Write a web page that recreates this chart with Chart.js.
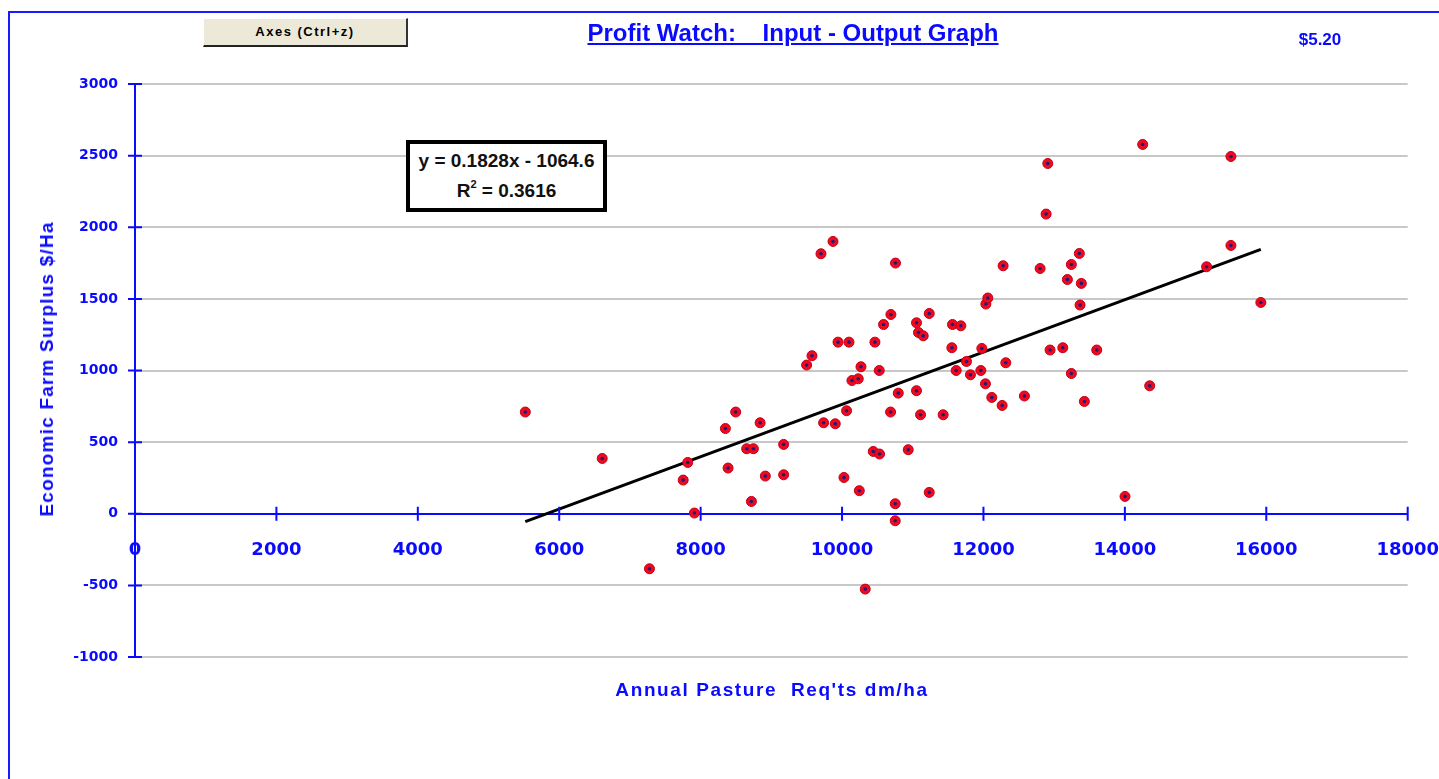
<!DOCTYPE html>
<html>
<head>
<meta charset="utf-8">
<title>Profit Watch: Input - Output Graph</title>
<script src="https://cdn.jsdelivr.net/npm/chart.js@4.4.1/dist/chart.umd.min.js"></script>
<style>
body { margin:0; background:#fff; width:1439px; height:779px; overflow:hidden; position:relative; font-family:"Liberation Sans", Arial, sans-serif; }
#frame { position:absolute; left:8px; top:11px; width:1500px; height:900px; border:2px solid #1a1aff; }
#chart { position:absolute; left:0; top:0; }
.lbl { position:absolute; color:#0a0aff; font-weight:bold; white-space:pre; transform:translate(-50%,-50%); }
#title { left:793px; top:33px; font-size:24px; text-decoration:underline; }
#price { left:1320px; top:40px; font-size:17px; }
#xtitle { left:772px; top:690px; font-size:19px; letter-spacing:1.6px; }
#ytitle { left:47px; top:369px; font-size:19px; letter-spacing:1.2px; transform:translate(-50%,-50%) rotate(-90deg); }
#btn { position:absolute; left:203px; top:18px; width:205px; height:29px; box-sizing:border-box; background:#ece9d8;
  border-top:1px solid #fff; border-left:1px solid #fff; border-right:2px solid #333; border-bottom:2px solid #222;
  font-size:13px; font-weight:bold; letter-spacing:1.5px; text-align:center; line-height:25px; color:#000; }
#eq { position:absolute; left:406px; top:140px; width:201px; height:72px; box-sizing:border-box; border:4px solid #000;
  background:#fff; font-size:19px; font-weight:bold; text-align:center; line-height:30px; padding-top:2px; white-space:nowrap; color:#111; }
#eq sup { font-size:11px; vertical-align:9px; line-height:0; }
</style>
</head>
<body>
<div id="frame"></div>
<canvas id="chart" width="1439" height="779"></canvas>
<div id="btn">Axes (Ctrl+z)</div>
<div class="lbl" id="title">Profit Watch:    Input - Output Graph</div>
<div class="lbl" id="price">$5.20</div>
<div id="eq">y = 0.1828x - 1064.6<br>R<sup>2</sup> = 0.3616</div>
<div class="lbl" id="xtitle">Annual Pasture  Req'ts dm/ha</div>
<div class="lbl" id="ytitle">Economic Farm Surplus $/Ha</div>
<script>
// valeurs
const pastureX = [5520, 6608, 7276, 7753, 7818, 7912, 8350, 8388, 8496, 8651, 8746, 8718, 8841, 8915, 9174, 9174,
    9499, 9575, 9702, 9739, 9872, 9904, 9943, 10027, 10064, 10098, 10140, 10229, 10244, 10268, 10328, 10441, 10465,
    10530, 10526, 10587, 10691, 10686, 10752, 10752, 10756, 10795, 10936, 11053, 11053, 11081, 11148, 11110, 11233,
    11233, 11430, 11553, 11562, 11614, 11680, 11760, 11816, 11963, 11977, 12028, 12034, 12062, 12118, 12264, 12278,
    12316, 12579, 12801, 12886, 12910, 12942, 13122, 13187, 13243, 13243, 13356, 13384, 13366, 13427, 13602, 14002,
    14252, 14351, 15156, 15500, 15500, 15923];
const surplusY = [710, 386, -384, 235, 358, 5, 595, 319, 710, 454, 454, 86, 635, 263, 484, 272,
    1038, 1103, 1815, 635, 1901, 628, 1198, 253, 719, 1198, 930, 942, 161, 1026, -526, 435, 1198,
    417, 1000, 1321, 1391, 710, 70, -49, 1750, 842, 447, 1333, 859, 1265, 1242, 691, 1398,
    149, 691, 1159, 1321, 1000, 1312, 1063, 970, 1000, 1154, 907, 1464, 1506, 812, 756, 1731,
    1054, 822, 1712, 2092, 2445, 1143, 1159, 1635, 1740, 979, 1817, 1608, 1457, 784, 1143, 121,
    2578, 893, 1724, 2494, 1873, 1475];
// droite de tendance (extrémités lues)
const trendX = [5520, 15923];
const trendY = [-55, 1846];

const xTicks = [0, 2000, 4000, 6000, 8000, 10000, 12000, 14000, 16000, 18000];
const yTicks = [-1000, -500, 0, 500, 1000, 1500, 2000, 2500, 3000];

const BLUE = '#0a0aff';

const points = pastureX.map((x, i) => ({x: x, y: surplusY[i]}));
const trend = trendX.map((x, i) => ({x: x, y: trendY[i]}));

// petites croix sur les axes
const axisTicks = {
    id: 'axisTicks',
    afterDraw(chart) {
        const ctx = chart.ctx;
        const xs = chart.scales.x, ys = chart.scales.y;
        const x0 = xs.getPixelForValue(0), y0 = ys.getPixelForValue(0);
        ctx.save();
        ctx.strokeStyle = BLUE;
        ctx.lineWidth = 2;
        ctx.beginPath();
        yTicks.forEach(v => {
            const p = ys.getPixelForValue(v);
            ctx.moveTo(x0 - 7, p);
            ctx.lineTo(x0 + 7, p);
        });
        xTicks.forEach(v => {
            if (v === 0) return;
            const p = xs.getPixelForValue(v);
            ctx.moveTo(p, y0 - 7);
            ctx.lineTo(p, y0 + 7);
        });
        ctx.stroke();
        ctx.restore();
    }
};

const chart = new Chart(document.getElementById('chart'), {
    type: 'scatter',
    data: {
        datasets: [{
            label: 'Trend',
            data: trend,
            showLine: true,
            borderColor: '#000',
            borderWidth: 3,
            pointRadius: 0,
            order: 3
        }, {
            label: 'Farms',
            data: points,
            pointRadius: 5,
            backgroundColor: '#f0081c',
            borderColor: '#c0001c',
            borderWidth: 1,
            order: 2
        }, {
            label: 'Centres',
            data: points,
            pointRadius: 1.8,
            backgroundColor: '#1c1c78',
            borderWidth: 0,
            order: 1
        }]
    },
    options: {
        responsive: false,
        animation: false,
        layout: { padding: { top: 84, right: 30, bottom: 122, left: 0 } },
        plugins: { legend: { display: false }, tooltip: { enabled: false } },
        scales: {
            x: {
                type: 'linear',
                position: { y: 0 },
                min: 0, max: 18000,
                afterBuildTicks: s => { s.ticks = xTicks.map(v => ({value: v})); },
                afterFit: s => { s.height = 0; },
                ticks: {
                    color: BLUE,
                    font: { family: 'DejaVu Sans', weight: 'bold', size: 18 },
                    padding: 0,
                    maxRotation: 0,
                    autoSkip: false,
                    callback: v => String(v)
                },
                grid: { drawOnChartArea: false, drawTicks: true, tickLength: 26, tickColor: 'rgba(0,0,0,0)' },
                border: { display: true, color: BLUE, width: 2 }
            },
            y: {
                min: -1000, max: 3000,
                afterBuildTicks: s => { s.ticks = yTicks.map(v => ({value: v})); },
                afterFit: s => { s.width = 135; },
                ticks: {
                    color: BLUE,
                    font: { family: 'DejaVu Sans', weight: 'bold', size: 14 },
                    padding: 17,
                    callback: v => String(v)
                },
                grid: {
                    color: c => (c.tick && c.tick.value === 0) ? 'rgba(0,0,0,0)' : '#c8c8c8',
                    lineWidth: 2,
                    drawTicks: false
                },
                border: { display: true, color: BLUE, width: 2 }
            }
        }
    },
    plugins: [axisTicks]
});
</script>
</body>
</html>
